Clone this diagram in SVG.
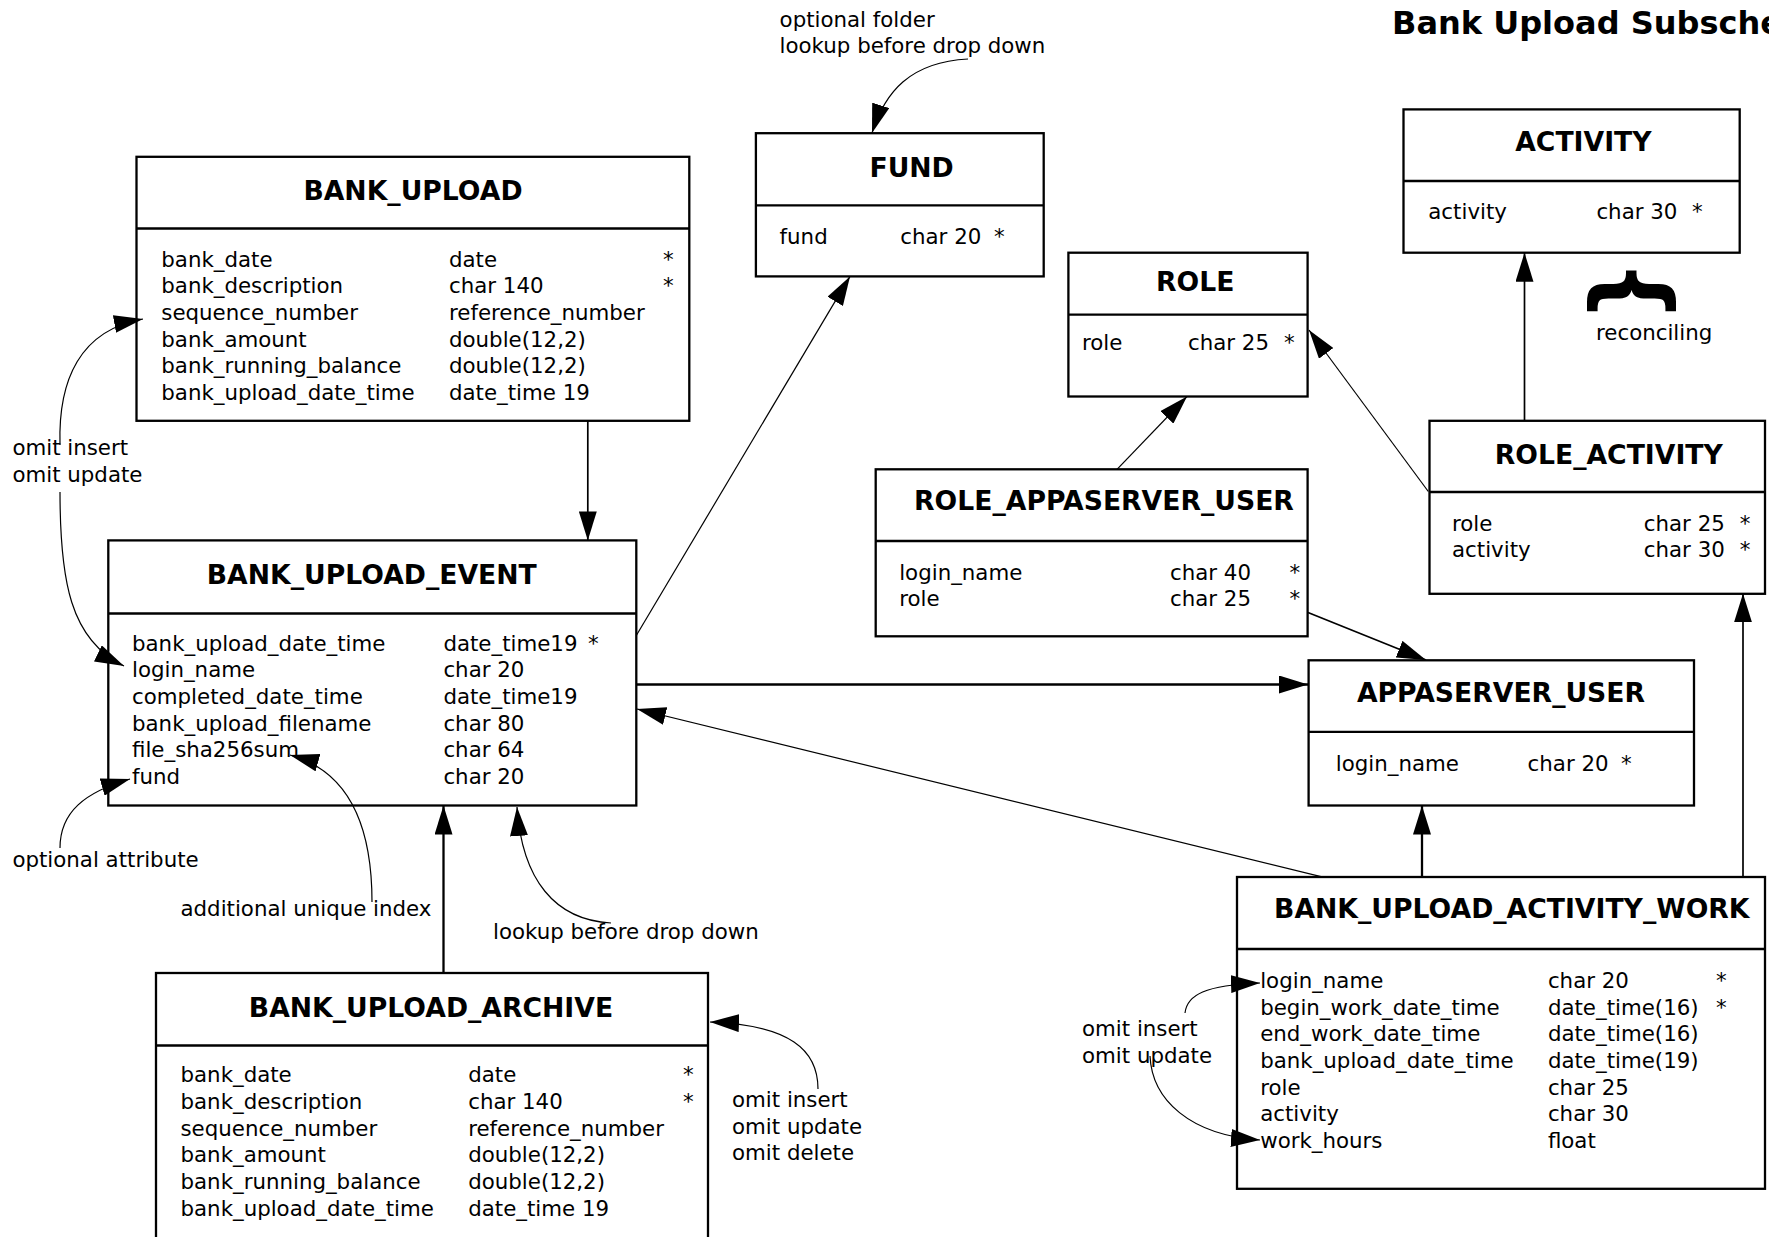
<svg xmlns="http://www.w3.org/2000/svg" width="1769" height="1237" viewBox="0 0 1769 1237">
<style>
.box{fill:#fff;stroke:#000;stroke-width:2.3}
.div{stroke:#000;stroke-width:2.3}
.t{font-family:"DejaVu Sans",sans-serif;font-size:21.33px;fill:#000}
.h{font-family:"DejaVu Sans",sans-serif;font-size:26.67px;font-weight:bold;text-anchor:middle;fill:#000}
.ttl{font-family:"DejaVu Sans",sans-serif;font-size:32px;font-weight:bold;fill:#000}
.c{fill:none;stroke:#000;stroke-width:1.2}
.m{fill:none;stroke:#000;stroke-width:1.7}
.k{fill:none;stroke:#000;stroke-width:2.3}
</style>
<defs>
<marker id="arr" viewBox="0 0 29 18" refX="29" refY="9" markerWidth="29" markerHeight="18" markerUnits="userSpaceOnUse" orient="auto">
<path d="M0,0 L29,9 L0,18 z" fill="#000"/>
</marker>
</defs>
<rect width="1769" height="1237" fill="#fff"/>

<text class="ttl" x="1392" y="34">Bank Upload Subsche</text>

<g id="bank_upload">
<rect class="box" x="136.5" y="156.8" width="552.8" height="264"/>
<line class="div" x1="136.5" y1="228.5" x2="689.3" y2="228.5"/>
<text class="h" x="413" y="200">BANK_UPLOAD</text>
<text class="t"><tspan x="161.3" y="266.5">bank_date</tspan><tspan x="161.3" y="293.2">bank_description</tspan><tspan x="161.3" y="319.8">sequence_number</tspan><tspan x="161.3" y="346.5">bank_amount</tspan><tspan x="161.3" y="373.2">bank_running_balance</tspan><tspan x="161.3" y="399.8">bank_upload_date_time</tspan></text>
<text class="t"><tspan x="449" y="266.5">date</tspan><tspan x="449" y="293.2">char 140</tspan><tspan x="449" y="319.8">reference_number</tspan><tspan x="449" y="346.5">double(12,2)</tspan><tspan x="449" y="373.2">double(12,2)</tspan><tspan x="449" y="399.8">date_time 19</tspan></text>
<text class="t"><tspan x="663" y="266.5">*</tspan><tspan x="663" y="293.2">*</tspan></text>
</g>

<g id="fund">
<rect class="box" x="755.9" y="133.2" width="287.8" height="143.2"/>
<line class="div" x1="755.9" y1="205.3" x2="1043.7" y2="205.3"/>
<text class="h" x="911.6" y="176.7">FUND</text>
<text class="t" x="779.6" y="243.5">fund</text>
<text class="t" x="900.3" y="243.5">char 20</text>
<text class="t" x="994" y="243.5">*</text>
</g>

<g id="activity">
<rect class="box" x="1403.5" y="109.4" width="336.2" height="143.3"/>
<line class="div" x1="1403.5" y1="181" x2="1739.7" y2="181"/>
<text class="h" x="1583.4" y="150.5">ACTIVITY</text>
<text class="t" x="1428.3" y="218.5">activity</text>
<text class="t" x="1596.4" y="218.5">char 30</text>
<text class="t" x="1692" y="218.5">*</text>
</g>

<g id="reconciling">
<text transform="translate(1636,291) rotate(90) scale(0.92,1)" font-family="DejaVu Sans, sans-serif" font-weight="bold" font-size="96" text-anchor="middle" dominant-baseline="central">{</text>
<text class="t" x="1596" y="340">reconciling</text>
</g>

<g id="role">
<rect class="box" x="1068.4" y="252.7" width="239.2" height="143.8"/>
<line class="div" x1="1068.4" y1="314.6" x2="1307.6" y2="314.6"/>
<text class="h" x="1195.3" y="291">ROLE</text>
<text class="t" x="1082" y="349.5">role</text>
<text class="t" x="1188" y="349.5">char 25</text>
<text class="t" x="1284" y="349.5">*</text>
</g>

<g id="role_appaserver_user">
<rect class="box" x="875.7" y="469.3" width="431.9" height="167"/>
<line class="div" x1="875.7" y1="541" x2="1307.6" y2="541"/>
<text class="h" x="1104" y="510">ROLE_APPASERVER_USER</text>
<text class="t"><tspan x="899.2" y="579.5">login_name</tspan><tspan x="899.2" y="605.8">role</tspan></text>
<text class="t"><tspan x="1170" y="579.5">char 40</tspan><tspan x="1170" y="605.8">char 25</tspan></text>
<text class="t"><tspan x="1289.5" y="579.5">*</tspan><tspan x="1289.5" y="605.8">*</tspan></text>
</g>

<g id="role_activity">
<rect class="box" x="1429.5" y="420.8" width="335.5" height="173"/>
<line class="div" x1="1429.5" y1="492" x2="1765" y2="492"/>
<text class="h" x="1608.8" y="463.8">ROLE_ACTIVITY</text>
<text class="t"><tspan x="1452" y="531">role</tspan><tspan x="1452" y="557.3">activity</tspan></text>
<text class="t"><tspan x="1643.8" y="531">char 25</tspan><tspan x="1643.8" y="557.3">char 30</tspan></text>
<text class="t"><tspan x="1739.7" y="531">*</tspan><tspan x="1739.7" y="557.3">*</tspan></text>
</g>

<g id="bank_upload_event">
<rect class="box" x="108.3" y="540.4" width="528" height="265.1"/>
<line class="div" x1="108.3" y1="613.5" x2="636.3" y2="613.5"/>
<text class="h" x="371.8" y="584.3">BANK_UPLOAD_EVENT</text>
<text class="t"><tspan x="132" y="650.5">bank_upload_date_time</tspan><tspan x="132" y="677.2">login_name</tspan><tspan x="132" y="703.8">completed_date_time</tspan><tspan x="132" y="730.5">bank_upload_filename</tspan><tspan x="132" y="757.2">file_sha256sum</tspan><tspan x="132" y="783.8">fund</tspan></text>
<text class="t"><tspan x="443.4" y="650.5">date_time19</tspan><tspan x="443.4" y="677.2">char 20</tspan><tspan x="443.4" y="703.8">date_time19</tspan><tspan x="443.4" y="730.5">char 80</tspan><tspan x="443.4" y="757.2">char 64</tspan><tspan x="443.4" y="783.8">char 20</tspan></text>
<text class="t" x="588" y="650.5">*</text>
</g>

<g id="appaserver_user">
<rect class="box" x="1308.6" y="660.3" width="385.4" height="145.2"/>
<line class="div" x1="1308.6" y1="731.8" x2="1694" y2="731.8"/>
<text class="h" x="1501" y="701.7">APPASERVER_USER</text>
<text class="t" x="1335.8" y="771">login_name</text>
<text class="t" x="1527.6" y="771">char 20</text>
<text class="t" x="1621" y="771">*</text>
</g>

<g id="bank_upload_activity_work">
<rect class="box" x="1237" y="877" width="528" height="311.8"/>
<line class="div" x1="1237" y1="949" x2="1765" y2="949"/>
<text class="h" x="1511.8" y="918.3">BANK_UPLOAD_ACTIVITY_WORK</text>
<text class="t"><tspan x="1260.2" y="987.8">login_name</tspan><tspan x="1260.2" y="1014.5">begin_work_date_time</tspan><tspan x="1260.2" y="1041.2">end_work_date_time</tspan><tspan x="1260.2" y="1067.8">bank_upload_date_time</tspan><tspan x="1260.2" y="1094.5">role</tspan><tspan x="1260.2" y="1121.2">activity</tspan><tspan x="1260.2" y="1147.8">work_hours</tspan></text>
<text class="t"><tspan x="1547.9" y="987.8">char 20</tspan><tspan x="1547.9" y="1014.5">date_time(16)</tspan><tspan x="1547.9" y="1041.2">date_time(16)</tspan><tspan x="1547.9" y="1067.8">date_time(19)</tspan><tspan x="1547.9" y="1094.5">char 25</tspan><tspan x="1547.9" y="1121.2">char 30</tspan><tspan x="1547.9" y="1147.8">float</tspan></text>
<text class="t"><tspan x="1716" y="987.8">*</tspan><tspan x="1716" y="1014.5">*</tspan></text>
</g>

<g id="bank_upload_archive">
<rect class="box" x="156" y="973" width="552" height="300"/>
<line class="div" x1="156" y1="1045.5" x2="708" y2="1045.5"/>
<text class="h" x="431" y="1016.7">BANK_UPLOAD_ARCHIVE</text>
<text class="t"><tspan x="180.5" y="1082.3">bank_date</tspan><tspan x="180.5" y="1109">bank_description</tspan><tspan x="180.5" y="1135.7">sequence_number</tspan><tspan x="180.5" y="1162.3">bank_amount</tspan><tspan x="180.5" y="1189">bank_running_balance</tspan><tspan x="180.5" y="1215.7">bank_upload_date_time</tspan></text>
<text class="t"><tspan x="468.2" y="1082.3">date</tspan><tspan x="468.2" y="1109">char 140</tspan><tspan x="468.2" y="1135.7">reference_number</tspan><tspan x="468.2" y="1162.3">double(12,2)</tspan><tspan x="468.2" y="1189">double(12,2)</tspan><tspan x="468.2" y="1215.7">date_time 19</tspan></text>
<text class="t"><tspan x="683" y="1082.3">*</tspan><tspan x="683" y="1109">*</tspan></text>
</g>

<g id="notes">
<text class="t"><tspan x="779.6" y="26.5">optional folder</tspan><tspan x="779.6" y="53.3">lookup before drop down</tspan></text>
<text class="t"><tspan x="12.4" y="455">omit insert</tspan><tspan x="12.4" y="481.7">omit update</tspan></text>
<text class="t" x="12.4" y="866.7">optional attribute</text>
<text class="t" x="180.5" y="915.5">additional unique index</text>
<text class="t" x="493" y="939">lookup before drop down</text>
<text class="t"><tspan x="732" y="1107">omit insert</tspan><tspan x="732" y="1133.7">omit update</tspan><tspan x="732" y="1160.3">omit delete</tspan></text>
<text class="t"><tspan x="1082" y="1036">omit insert</tspan><tspan x="1082" y="1062.5">omit update</tspan></text>
</g>

<g id="connectors">
<line class="m" x1="587.8" y1="420.8" x2="587.8" y2="540.4" marker-end="url(#arr)"/>
<line class="c" x1="636.3" y1="635.5" x2="850" y2="276.4" marker-end="url(#arr)"/>
<line class="k" x1="636.3" y1="684.5" x2="1308" y2="684.5" marker-end="url(#arr)"/>
<line class="c" x1="1321" y1="876.6" x2="637" y2="709" marker-end="url(#arr)"/>
<line class="k" x1="1422" y1="876.6" x2="1422" y2="805.5" marker-end="url(#arr)"/>
<line class="m" x1="1743" y1="876.6" x2="1743" y2="593.4" marker-end="url(#arr)"/>
<line class="m" x1="1308" y1="612.5" x2="1426" y2="660" marker-end="url(#arr)"/>
<line class="c" x1="1117" y1="469.3" x2="1187" y2="396.5" marker-end="url(#arr)"/>
<line class="c" x1="1428.3" y1="491.5" x2="1309" y2="330" marker-end="url(#arr)"/>
<line class="m" x1="1524.5" y1="420.8" x2="1524.5" y2="252.7" marker-end="url(#arr)"/>
<line class="k" x1="443.5" y1="972.5" x2="443.5" y2="805.5" marker-end="url(#arr)"/>
<path class="c" d="M968,59 C910,62 885,92 872,133" marker-end="url(#arr)"/>
<path class="c" d="M60,445 C58,380 80,330 143,319" marker-end="url(#arr)"/>
<path class="c" d="M60,492 C60,580 70,640 124,666" marker-end="url(#arr)"/>
<path class="c" d="M60,848 C60,812 85,792 130,779" marker-end="url(#arr)"/>
<path class="c" d="M372,902 C372,830 352,772 290,755" marker-end="url(#arr)"/>
<path class="c" d="M611,923 C555,920 522,880 517,807" marker-end="url(#arr)"/>
<path class="c" d="M818,1089 C818,1050 790,1025 710,1022" marker-end="url(#arr)"/>
<path class="c" d="M1185,1013 C1187,995 1205,985 1260,983" marker-end="url(#arr)"/>
<path class="c" d="M1150,1056 C1152,1100 1190,1135 1260,1140" marker-end="url(#arr)"/>
</g>
</svg>
